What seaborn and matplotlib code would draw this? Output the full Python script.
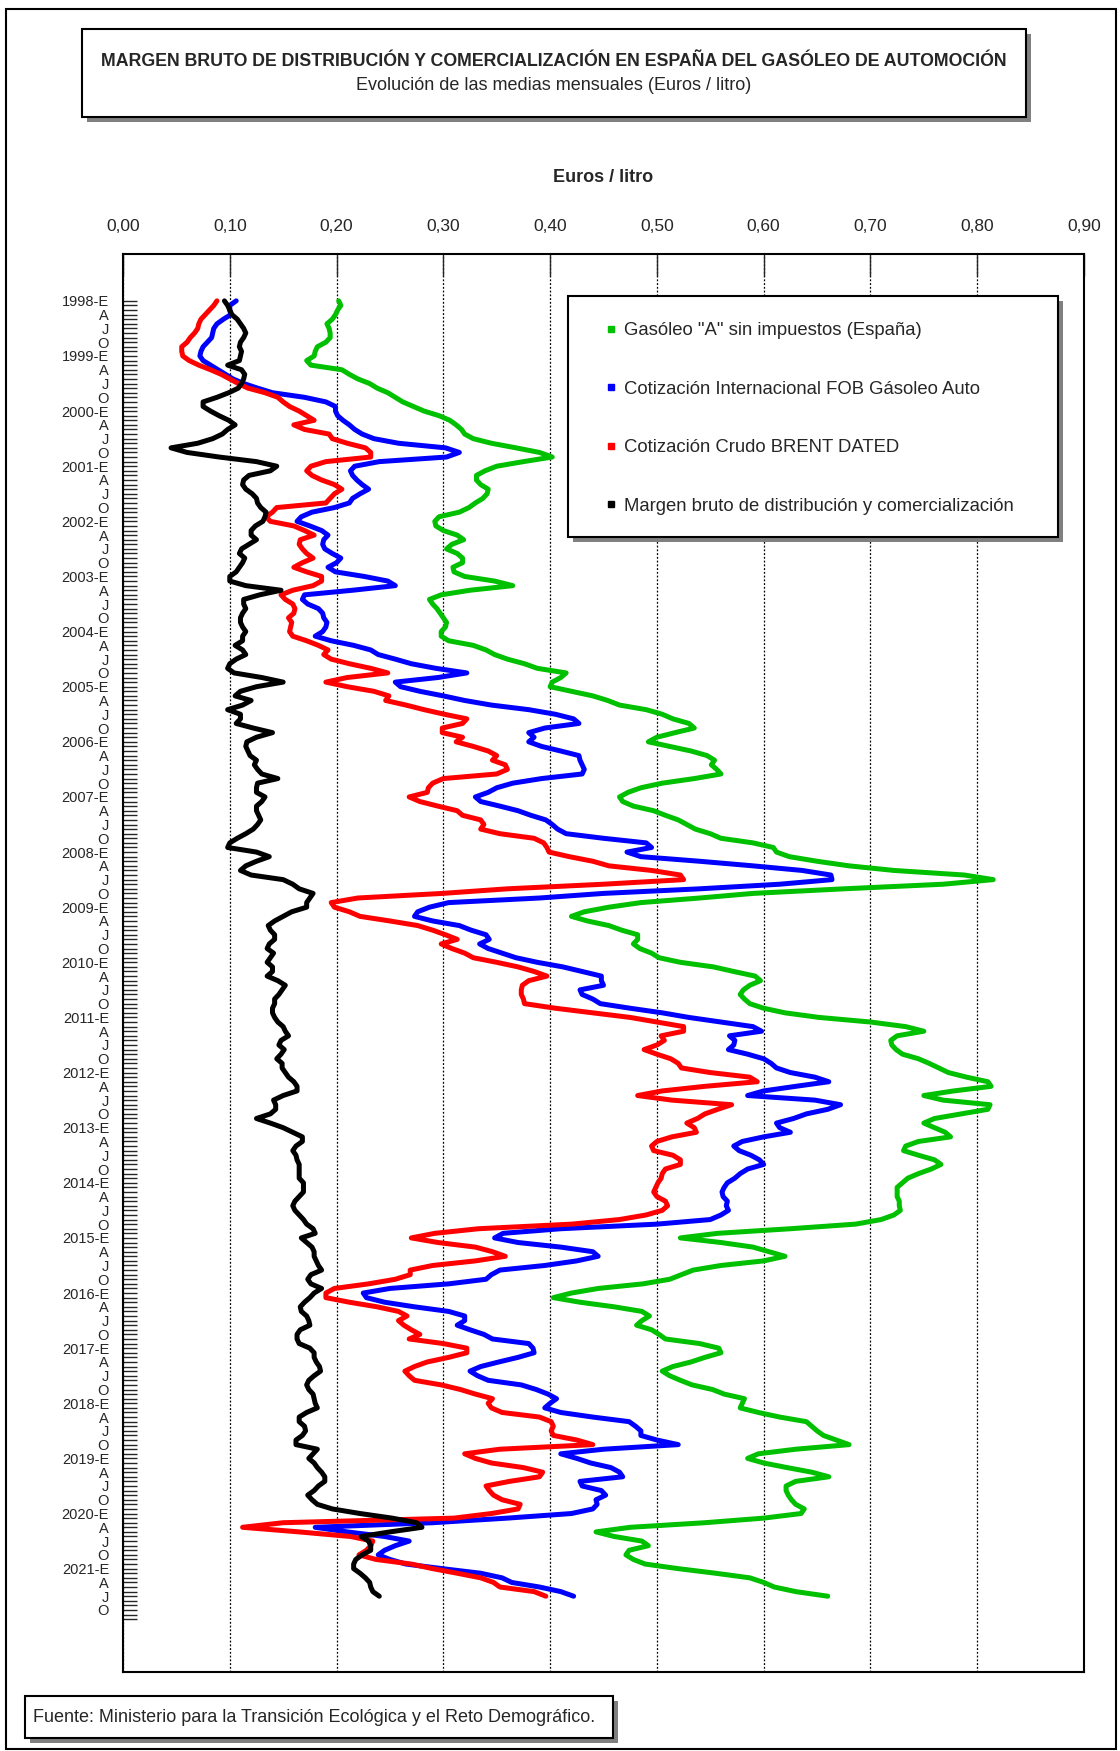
import matplotlib
matplotlib.use("Agg")
import matplotlib.pyplot as plt
import matplotlib.ticker as mticker
from matplotlib.patches import Rectangle
from matplotlib.lines import Line2D
import numpy as np
import pandas as pd
import seaborn as sns

# monthly means, Jan 1998 .. Jul 2021 (euros / litre)
start_month = "1998-01"
end_month = "2021-07"
axis_end_month = "2021-12"
quarter_letters = {1: "E", 4: "A", 7: "J", 10: "O"}
x_ticks = [0.0, 0.1, 0.2, 0.3, 0.4, 0.5, 0.6, 0.7, 0.8, 0.9]

gasoleo = [
    .202, .204, .201, .199, .196, .191, .193, .194, .194, .190, .182, .180,
    .179, .172, .176, .205, .212, .220, .231, .238, .248, .255, .262, .272,
    .282, .296, .306, .312, .317, .320, .328, .345, .368, .390, .402, .375,
    .350, .339, .331, .331, .335, .342, .341, .337, .330, .324, .315, .296,
    .292, .293, .300, .313, .319, .308, .303, .313, .318, .318, .309, .310,
    .320, .348, .365, .325, .298, .287, .290, .294, .297, .300, .303, .302,
    .298, .298, .305, .328, .340, .348, .360, .376, .388, .415, .410, .402,
    .400, .420, .440, .454, .465, .490, .505, .515, .530, .535, .517, .500,
    .492, .512, .532, .547, .554, .551, .556, .560, .535, .505, .485, .473,
    .465, .468, .478, .497, .508, .520, .528, .536, .550, .560, .590, .609,
    .612, .624, .650, .680, .722, .788, .815, .768, .675, .590, .540, .485,
    .455, .432, .420, .435, .455, .467, .482, .482, .478, .484, .495, .502,
    .522, .553, .572, .592, .597, .587, .581, .578, .582, .587, .600, .620,
    .652, .700, .733, .750, .725, .719, .720, .724, .730, .745, .755, .764,
    .773, .790, .810, .813, .778, .750, .768, .812, .810, .785, .760, .750,
    .760, .770, .775, .745, .733, .731, .745, .760, .766, .757, .745, .735,
    .730, .725, .725, .725, .727, .727, .728, .722, .710, .686, .625, .557,
    .522, .560, .590, .605, .620, .600, .560, .534, .523, .512, .487, .445,
    .420, .403, .428, .460, .486, .493, .486, .481, .495, .502, .508, .540,
    .558, .560, .545, .532, .515, .505, .512, .522, .533, .552, .563, .582,
    .580, .578, .595, .615, .640, .645, .650, .656, .668, .680, .630, .595,
    .585, .600, .622, .645, .661, .630, .621, .621, .623, .626, .630, .638,
    .635, .600, .545, .475, .443, .460, .486, .492, .474, .471, .478, .489,
    .520, .555, .587, .600, .610, .630, .660,
]

fob = [
    .106, .100, .100, .101, .094, .088, .085, .084, .083, .079, .075, .073,
    .072, .075, .082, .089, .096, .103, .113, .126, .140, .170, .190, .199,
    .199, .201, .206, .212, .217, .224, .235, .258, .302, .315, .303, .240,
    .217, .213, .215, .219, .224, .230, .222, .215, .212, .198, .177, .167,
    .163, .175, .186, .192, .188, .187, .189, .196, .204, .200, .192, .199,
    .226, .248, .255, .215, .170, .168, .173, .183, .187, .188, .191, .190,
    .187, .180, .195, .216, .232, .239, .255, .270, .293, .322, .295, .255,
    .260, .278, .300, .320, .345, .380, .405, .422, .427, .395, .380, .385,
    .380, .392, .410, .427, .428, .430, .432, .430, .392, .365, .350, .342,
    .330, .335, .353, .370, .382, .396, .402, .407, .415, .450, .490, .495,
    .472, .485, .540, .590, .636, .663, .664, .615, .540, .450, .390, .305,
    .287, .276, .273, .290, .315, .326, .340, .343, .334, .342, .355, .368,
    .388, .412, .430, .448, .448, .450, .428, .430, .440, .447, .475, .505,
    .530, .560, .590, .598, .568, .573, .572, .567, .585, .600, .607, .612,
    .625, .648, .661, .630, .600, .585, .648, .672, .660, .640, .628, .612,
    .615, .625, .600, .580, .572, .577, .588, .596, .600, .585, .578, .573,
    .566, .563, .561, .562, .566, .565, .567, .560, .550, .500, .410, .356,
    .348, .370, .410, .440, .445, .425, .395, .353, .345, .340, .305, .250,
    .225, .228, .245, .273, .305, .320, .320, .313, .325, .338, .346, .380,
    .384, .385, .370, .352, .335, .325, .332, .342, .373, .387, .398, .406,
    .400, .395, .410, .440, .474, .480, .485, .485, .500, .520, .450, .410,
    .425, .438, .457, .465, .468, .428, .430, .448, .452, .443, .444, .440,
    .420, .360, .290, .180, .210, .245, .268, .255, .245, .239, .250, .265,
    .299, .335, .355, .364, .390, .410, .422,
]

brent = [
    .088, .085, .081, .077, .073, .071, .070, .067, .063, .060, .055, .055,
    .056, .062, .071, .082, .092, .100, .108, .117, .133, .145, .150, .156,
    .165, .172, .179, .160, .170, .193, .196, .210, .227, .232, .232, .190,
    .176, .172, .177, .186, .198, .205, .198, .194, .190, .144, .140, .134,
    .138, .160, .170, .179, .166, .165, .168, .172, .178, .168, .160, .172,
    .186, .186, .178, .159, .148, .152, .159, .161, .160, .155, .158, .157,
    .156, .159, .172, .183, .192, .188, .195, .212, .232, .248, .210, .190,
    .210, .235, .249, .246, .265, .282, .301, .322, .318, .299, .299, .318,
    .312, .328, .342, .350, .346, .358, .360, .350, .300, .290, .286, .285,
    .268, .278, .295, .313, .318, .335, .338, .335, .353, .385, .394, .397,
    .399, .418, .440, .455, .495, .522, .525, .450, .360, .299, .220, .195,
    .198, .212, .222, .250, .276, .290, .302, .313, .298, .308, .320, .328,
    .350, .370, .385, .397, .380, .374, .373, .373, .375, .376, .405, .440,
    .475, .500, .525, .525, .504, .507, .500, .488, .500, .513, .520, .523,
    .550, .587, .594, .545, .505, .482, .514, .570, .557, .545, .538, .528,
    .535, .537, .514, .500, .495, .497, .515, .522, .522, .508, .505, .504,
    .501, .499, .497, .500, .508, .510, .505, .490, .465, .420, .333, .292,
    .270, .295, .330, .346, .358, .330, .290, .269, .269, .255, .230, .198,
    .190, .190, .212, .238, .258, .266, .258, .263, .270, .278, .268, .300,
    .322, .322, .305, .285, .273, .264, .268, .273, .298, .316, .330, .346,
    .342, .345, .355, .390, .401, .403, .401, .403, .425, .440, .353, .320,
    .330, .345, .375, .393, .390, .362, .340, .343, .347, .355, .372, .370,
    .345, .310, .150, .112, .165, .213, .234, .232, .228, .221, .237, .270,
    .290, .313, .335, .347, .353, .385, .396,
]

margen = [
    .095, .098, .100, .102, .107, .110, .113, .115, .113, .110, .109, .111,
    .110, .109, .098, .111, .114, .113, .111, .108, .099, .088, .075, .075,
    .082, .090, .099, .105, .098, .093, .084, .070, .045, .060, .090, .125,
    .144, .138, .118, .113, .112, .115, .121, .125, .126, .129, .134, .133,
    .131, .124, .120, .120, .125, .118, .111, .109, .114, .112, .109, .106,
    .100, .100, .115, .148, .128, .113, .113, .115, .112, .110, .110, .112,
    .115, .112, .112, .105, .112, .115, .106, .100, .098, .104, .130, .150,
    .125, .110, .105, .120, .112, .098, .110, .110, .106, .122, .140, .125,
    .116, .115, .117, .119, .125, .123, .126, .130, .145, .126, .125, .125,
    .133, .130, .125, .125, .127, .129, .126, .122, .115, .107, .100, .098,
    .125, .137, .125, .115, .110, .120, .150, .159, .165, .178, .175, .172,
    .172, .158, .150, .142, .136, .138, .142, .142, .137, .135, .141, .138,
    .135, .140, .140, .135, .145, .152, .149, .146, .142, .142, .140, .140,
    .142, .145, .150, .152, .155, .148, .146, .151, .148, .144, .149, .149,
    .152, .155, .160, .163, .163, .150, .141, .143, .143, .138, .125, .138,
    .150, .159, .168, .168, .162, .159, .162, .163, .165, .165, .165, .165,
    .169, .169, .169, .165, .161, .159, .161, .165, .169, .172, .178, .180,
    .167, .172, .177, .179, .179, .181, .183, .186, .176, .173, .176, .186,
    .179, .175, .170, .166, .167, .172, .174, .175, .166, .163, .163, .165,
    .175, .179, .179, .181, .184, .185, .179, .174, .172, .174, .178, .179,
    .180, .182, .172, .165, .165, .170, .171, .168, .162, .162, .182, .178,
    .174, .179, .182, .186, .189, .189, .183, .179, .173, .177, .182, .196,
    .222, .252, .275, .280, .250, .223, .230, .232, .232, .224, .218, .216,
    .216, .222, .227, .231, .232, .234, .240,
]

series_names = [
    'Gasóleo "A" sin impuestos (España)',
    "Cotización Internacional FOB Gásoleo Auto",
    "Cotización Crudo BRENT DATED",
    "Margen bruto de distribución y comercialización",
]
series_colors = ["#00c000", "#0000ff", "#ff0000", "#000000"]

W, H = 1120, 1751


def fx(px):
    return px / W


def fy(py):
    return 1 - py / H


def comma_formatter(x, pos):
    return f"{x:.2f}".replace(".", ",")


def boxed(fig, x0, y0, x1, y1, off=5):
    # white box with grey drop shadow, in pixel coords (top-left origin)
    shadow = Rectangle((fx(x0 + off), fy(y1 + off)), fx(x1 - x0), (y1 - y0) / H,
                       transform=fig.transFigure, facecolor="#808080",
                       edgecolor="none", zorder=1)
    box = Rectangle((fx(x0), fy(y1)), fx(x1 - x0), (y1 - y0) / H,
                    transform=fig.transFigure, facecolor="white",
                    edgecolor="black", linewidth=1.5, zorder=1.1)
    fig.add_artist(shadow)
    fig.add_artist(box)


def main():
    sns.set_style("white")
    plt.rcParams["font.family"] = ["Liberation Sans", "DejaVu Sans"]

    months = pd.period_range(start_month, end_month, freq="M")
    axis_months = pd.period_range(start_month, axis_end_month, freq="M")
    idx = np.arange(len(months))

    frames = []
    for name, vals in zip(series_names, [gasoleo, fob, brent, margen]):
        frames.append(pd.DataFrame({"mes": idx, "valor": vals, "serie": name}))
    df = pd.concat(frames, ignore_index=True)

    fig = plt.figure(figsize=(W / 100, H / 100), dpi=100)
    ax = fig.add_axes([fx(123), fy(1672), fx(1084 - 123), (1672 - 254) / H])

    sns.lineplot(data=df, x="valor", y="mes", hue="serie",
                 hue_order=series_names, palette=series_colors,
                 orient="y", sort=False, estimator=None,
                 linewidth=3.6, legend=False, ax=ax)

    ax.set_xlim(0, 0.9)
    ax.set_ylim(298.5, -10.2)
    ax.set_xlabel("")
    ax.set_ylabel("")

    ax.xaxis.tick_top()
    ax.set_xticks(x_ticks)
    ax.xaxis.set_major_formatter(mticker.FuncFormatter(comma_formatter))
    ax.tick_params(axis="x", direction="in", length=16, width=1,
                   pad=14.5, labelsize=12.5, top=True, bottom=False)

    ylabels = []
    for p in axis_months:
        if p.month == 1:
            ylabels.append(f"{p.year}-E")
        elif p.month in quarter_letters:
            ylabels.append(quarter_letters[p.month])
        else:
            ylabels.append("")
    ax.set_yticks(np.arange(len(axis_months)))
    ax.set_yticklabels(ylabels)
    ax.tick_params(axis="y", direction="in", length=10, width=1.0,
                   pad=10, labelsize=10.5, left=True)

    ax.grid(axis="x", color="black", linestyle=(0, (1.5, 1.5)), linewidth=0.9)
    ax.grid(axis="y", visible=False)
    for s in ax.spines.values():
        s.set_linewidth(1.5)
        s.set_color("black")

    fig.text(fx(603), fy(177), "Euros / litro", ha="center", va="center",
             fontsize=13, fontweight="bold")

    # title box
    boxed(fig, 82, 29, 1026, 117)
    fig.text(fx(554), fy(61),
             "MARGEN BRUTO DE DISTRIBUCIÓN Y COMERCIALIZACIÓN EN ESPAÑA "
             "DEL GASÓLEO DE AUTOMOCIÓN",
             ha="center", va="center", fontsize=12.75, fontweight="bold",
             zorder=3)
    fig.text(fx(554), fy(86), "Evolución de las medias mensuales (Euros / litro)",
             ha="center", va="center", fontsize=13, zorder=3)

    # legend
    boxed(fig, 568, 296, 1058, 537)
    handles = [Line2D([], [], marker="s", linestyle="none", color=c,
                      markersize=4.5) for c in series_colors]
    fig.legend(handles, series_names, loc="upper left",
               bbox_to_anchor=(fx(604), fy(322)),
               bbox_transform=fig.transFigure, frameon=False, fontsize=13.3,
               handlelength=0.8, handletextpad=0.3, labelspacing=2.25,
               borderpad=0, borderaxespad=0)

    # source box
    boxed(fig, 25, 1696, 613, 1738)
    fig.text(fx(33), fy(1717),
             "Fuente: Ministerio para la Transición Ecológica y el Reto Demográfico.",
             ha="left", va="center", fontsize=13, zorder=3)

    # outer border
    fig.add_artist(Rectangle((fx(6), fy(1749)), fx(1116 - 6), (1749 - 9) / H,
                             transform=fig.transFigure, fill=False,
                             edgecolor="black", linewidth=1.5, zorder=0.5))

    fig.savefig("out.png", dpi=100)
    plt.close(fig)


if __name__ == "__main__":
    main()
